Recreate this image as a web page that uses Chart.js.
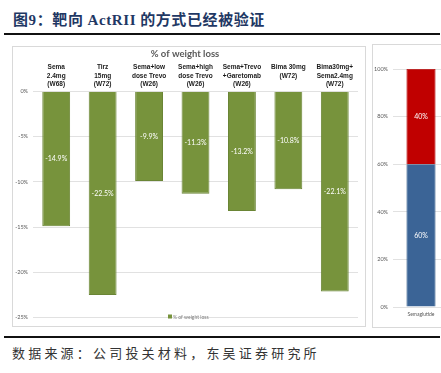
<!DOCTYPE html>
<html>
<head>
<meta charset="utf-8">
<script src="https://cdn.jsdelivr.net/npm/chart.js@4/dist/chart.umd.min.js"></script>
<style>
  html,body{margin:0;padding:0;background:#fff;}
  body{width:441px;height:373px;position:relative;overflow:hidden;}
  #title{position:absolute;left:13px;top:8px;font:bold 15px "Liberation Serif","Noto Sans CJK SC",serif;color:#1F3864;white-space:nowrap;letter-spacing:0.6px;}
  #title .cn{font-family:"Noto Sans CJK SC",sans-serif;font-weight:bold;}
  .rule{position:absolute;left:4px;width:436px;height:2px;background:#111;}
  #src{position:absolute;left:12px;top:343px;font:13px "Noto Sans CJK SC",sans-serif;color:#333;letter-spacing:3.2px;white-space:nowrap;}
  .panel{position:absolute;border:1px solid #d9d9d9;box-sizing:border-box;}
  #c1wrap{position:absolute;left:12px;top:46px;width:353px;height:280px;}
  #c2wrap{position:absolute;left:372px;top:45px;width:90px;height:282px;}
</style>
</head>
<body>
<div id="title"><span class="cn">图</span>9<span class="cn">：靶向 </span>ActRII<span class="cn"> 的方式已经被验证</span></div>
<div class="rule" style="top:33px"></div>
<div class="panel" style="left:12px;top:46px;width:354px;height:281px"></div>
<div class="panel" style="left:372px;top:44px;width:80px;height:284px"></div>
<div id="c1wrap"><canvas id="c1" width="353" height="280"></canvas></div>
<div id="c2wrap"><canvas id="c2" width="90" height="282"></canvas></div>
<div class="rule" style="top:336px"></div>
<div id="src">数据来源：公司投关材料，东吴证券研究所</div>
<script>
const categories = [
  ["Sema","2.4mg","(W68)"],
  ["Tirz","15mg","(W72)"],
  ["Sema+low","dose Trevo","(W26)"],
  ["Sema+high","dose Trevo","(W26)"],
  ["Sema+Trevo","+Garetomab","(W26)"],
  ["Bima 30mg","(W72)"],
  ["Bima30mg+","Sema2.4mg","(W72)"]
];
const weightLoss = [-14.9, -22.5, -9.9, -11.3, -13.2, -10.8, -22.1];
const seriesName = "% of weight loss";
const chartTitle = "% of weight loss";
const yTicks = [0, -5, -10, -15, -20, -25];

const rightCategories = ["Semaglutide"];
const partA = [60];
const partB = [40];
const rightTicks = [0, 20, 40, 60, 80, 100];

const GREEN = "#77933C";
const BLUE = "#3B6496";
const RED = "#C00000";

const valueLabels = {
  id: "valueLabels",
  afterDatasetsDraw(chart, args, opts) {
    const ctx = chart.ctx;
    ctx.save();
    ctx.fillStyle = "#ffffff";
    ctx.font = opts.font;
    ctx.textAlign = "center";
    ctx.textBaseline = "middle";
    chart.data.datasets.forEach((ds, di) => {
      const meta = chart.getDatasetMeta(di);
      meta.data.forEach((bar, i) => {
        const v = ds.data[i];
        const y = (bar.y + bar.base) / 2;
        ctx.fillText(opts.format(v), bar.x, y);
      });
    });
    ctx.restore();
  }
};

const miniLegend = {
  id: "miniLegend",
  afterDraw(chart) {
    const ctx = chart.ctx;
    ctx.save();
    const x = 156, y = 271;
    ctx.fillStyle = GREEN;
    ctx.fillRect(x, y - 2.5, 4, 4);
    ctx.fillStyle = "#7f7f7f";
    ctx.font = "5px Lato, sans-serif";
    ctx.textBaseline = "middle";
    ctx.fillText(seriesName, x + 5, y);
    ctx.restore();
  }
};

new Chart(document.getElementById("c1"), {
  type: "bar",
  data: {
    labels: categories,
    datasets: [{
      label: seriesName,
      data: weightLoss,
      backgroundColor: GREEN,
      borderColor: "#6A8535",
      borderWidth: 1,
      categoryPercentage: 1,
      barPercentage: 0.6
    }]
  },
  options: {
    responsive: false,
    animation: false,
    events: [],
    layout: { padding: { left: 0, right: 7, top: 0, bottom: 4 } },
    plugins: {
      legend: { display: false },
      tooltip: { enabled: false },
      title: {
        display: true,
        text: chartTitle,
        color: "#595959",
        font: { family: "Lato", size: 9.5 },
        padding: { top: 2, bottom: 2 }
      },
      valueLabels: { font: "7px Lato, sans-serif", format: v => v.toFixed(1) + "%" }
    },
    scales: {
      x: {
        position: "top",
        grid: { display: false, drawTicks: false },
        border: { display: false },
        ticks: {
          color: "#1a1a1a",
          font: { family: "'Liberation Sans', Arial, sans-serif", weight: "bold", size: 6.5, lineHeight: 1.3 },
          crossAlign: "far",
          padding: 3,
          autoSkip: false,
          maxRotation: 0
        },
        afterFit(axis) { axis.height = 30; }
      },
      y: {
        min: -25, max: 0,
        afterBuildTicks(axis) { axis.ticks = yTicks.map(v => ({ value: v })); },
        grid: { color: "#d9d9d9", lineWidth: 0.8, drawTicks: false },
        border: { display: false },
        ticks: {
          color: "#595959",
          font: { family: "Lato", size: 5.5 },
          padding: 5,
          callback: v => v + "%"
        },
        afterFit(axis) { axis.width = 21; }
      }
    }
  },
  plugins: [valueLabels, miniLegend]
});

new Chart(document.getElementById("c2"), {
  type: "bar",
  data: {
    labels: rightCategories,
    datasets: [
      { label: "A", data: partA, backgroundColor: BLUE, borderColor: "#345a87", borderWidth: 0.8, categoryPercentage: 1, barPercentage: 0.52 },
      { label: "B", data: partB, backgroundColor: RED, borderColor: "#b00000", borderWidth: 0.8, categoryPercentage: 1, barPercentage: 0.52 }
    ]
  },
  options: {
    responsive: false,
    animation: false,
    events: [],
    layout: { padding: { left: 0, right: 13, top: 24, bottom: 0 } },
    plugins: {
      legend: { display: false },
      tooltip: { enabled: false },
      valueLabels: { font: "7px Lato, sans-serif", format: v => v + "%" }
    },
    scales: {
      x: {
        stacked: true,
        grid: { display: false, drawTicks: false },
        border: { display: false },
        ticks: { color: "#595959", font: { family: "Lato", size: 5 }, padding: 4, maxRotation: 0 },
        afterFit(axis) { axis.height = 20; }
      },
      y: {
        stacked: true,
        min: 0, max: 100,
        afterBuildTicks(axis) { axis.ticks = rightTicks.map(v => ({ value: v })); },
        grid: { color: "#d9d9d9", lineWidth: 0.8, drawTicks: false },
        border: { display: false },
        ticks: { color: "#595959", font: { family: "Lato", size: 5.5 }, padding: 5, callback: v => v + "%" },
        afterFit(axis) { axis.width = 21; }
      }
    }
  },
  plugins: [valueLabels]
});
</script>
</body>
</html>
